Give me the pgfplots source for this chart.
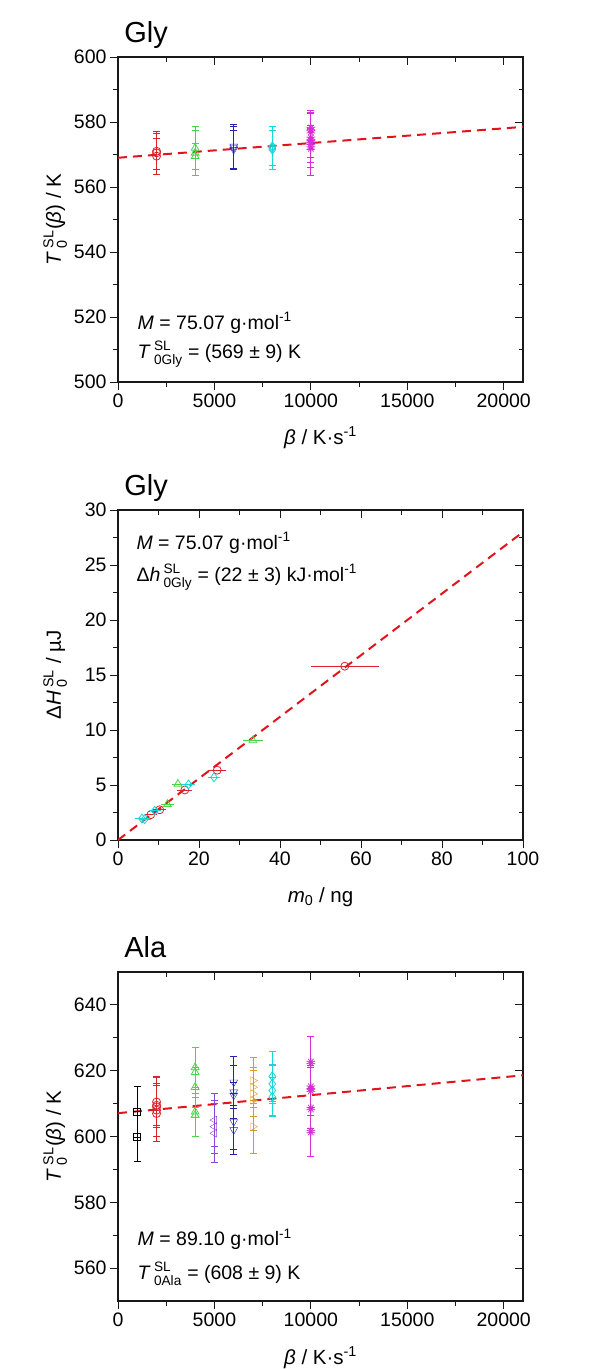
\documentclass[border=0pt]{standalone}
\usepackage{pgfplots}
\pgfplotsset{compat=1.18}
\usepackage{fontspec}
\setmainfont{Liberation Sans}
\usepackage{amsmath}
\usetikzlibrary{plotmarks}

\definecolor{cred}{RGB}{220,35,40}
\definecolor{cgreen}{RGB}{70,215,70}
\definecolor{cblue}{RGB}{35,35,175}
\definecolor{ccyan}{RGB}{25,215,215}
\definecolor{cmag}{RGB}{215,45,215}
\definecolor{cviol}{RGB}{140,70,215}
\definecolor{corange}{RGB}{225,150,40}
\definecolor{cfit}{RGB}{225,20,30}

\newcommand{\fs}{\fontsize{19.5}{23}\selectfont}
\newcommand{\fl}{\fontsize{20.5}{24}\selectfont}
\newcommand{\ft}{\fontsize{29}{33}\selectfont}

\pgfplotsset{
  myax/.style={
    scale only axis, width=405pt, clip mode=individual,
    axis line style={line width=1.3pt, black!90},
    every tick/.style={line width=1pt, black!90},
    major tick length=8pt, minor tick length=4.5pt,
    tick align=outside, xtick pos=left, ytick pos=left,
    ticklabel style={font=\fs},
    /pgf/number format/assume math mode=true,
    /pgf/number format/set thousands separator={},
    scaled ticks=false,
    minor x tick num=1, minor y tick num=1,
    every axis y label/.style={at={(axis description cs:-0.155,0.5)}, rotate=90, anchor=center, font=\fl},
    every axis x label/.style={at={(axis description cs:0.5,-0.172)}, anchor=center, font=\fl},
  },
  mirror/.style={
    scale only axis, width=405pt, scaled ticks=false,
    axis line style={draw=none},
    every tick/.style={line width=1pt, black!90},
    major tick length=8pt, minor tick length=4.5pt,
    tick align=inside, xtick pos=right, ytick pos=right,
    xticklabels={}, yticklabels={},
    minor x tick num=1, minor y tick num=1,
  },
  pts/.style={only marks, mark size=4pt, mark options={line width=0.8pt, fill=none},
    error bars/y dir=both, error bars/y explicit,
    error bars/error bar style={line width=0.8pt},
    error bars/error mark options={line width=0.8pt, mark size=3.5pt, rotate=90}},
  ptsx/.style={only marks, mark size=4pt, mark options={line width=0.8pt, fill=none},
    error bars/x dir=both, error bars/x explicit,
    error bars/error bar style={line width=0.8pt},
    error bars/error mark options={line width=0.8pt, mark size=3.5pt}},
  fit/.style={cfit, line width=2pt, dash pattern=on 9pt off 6pt},
}

\begin{document}
\begin{tikzpicture}
\path[use as bounding box] (0,0) rectangle (600pt,-1369pt);

% ---------------- Panel 1 ----------------
\begin{axis}[myax, at={(118pt,-382pt)}, anchor=south west, height=325pt,
  xmin=0, xmax=21000, ymin=500, ymax=600,
  xtick={0,5000,10000,15000,20000}, ytick={500,520,540,560,580,600},
  ylabel={\textit{T}\,$^{\text{SL}}_{\text{0}}$(\textit{β}) / K},
  xlabel={\textit{β} / K·s\textsuperscript{-1}}]
\addplot[fit] coordinates {(0,569) (21000,578.5)};
\addplot[pts, color=cred, mark=o] table[x=x,y=y,y error=e] {
x y e
2000 570.5 6.5
2000 571 5.5
2000 569.5 5.5
};
\addplot[pts, color=cgreen, mark=triangle, mark size=4.5pt] table[x=x,y=y,y error=e] {
x y e
4000 572 6.5
4000 570.5 7
4000 569.5 4
};
\addplot[pts, color=cblue, mark=triangle, mark size=4.5pt, mark options={rotate=180}] table[x=x,y=y,y error=e] {
x y e
6000 572.5 6.8
6000 571.5 6
6000 572 6.5
};
\addplot[pts, color=ccyan, mark=diamond, mark size=4.5pt] table[x=x,y=y,y error=e] {
x y e
8000 572 6.5
8000 571.5 6
8000 572.5 6
};
\addplot[pts, color=cmag, mark=10-pointed star, mark size=4.5pt] table[x=x,y=y,y error=e] {
x y e
10000 573.5 10
10000 577 5.5
10000 575 7.5
10000 572 6
10000 574 5
10000 578 5
};
\node[anchor=west, font=\fs] at (rel axis cs:0.04,0.182) {\textit{M} = 75.07 g·mol\textsuperscript{-1}};
\node[anchor=west, font=\fs] at (rel axis cs:0.04,0.086) {\textit{T}\,$^{\text{SL}}_{\text{0Gly}}$ = (569 ± 9) K};
\node[anchor=base west, font=\ft, inner sep=0pt] at (rel axis cs:0.015,1) [yshift=15pt] {Gly};
\end{axis}
\begin{axis}[mirror, at={(118pt,-382pt)}, anchor=south west, height=325pt,
  xmin=0, xmax=21000, ymin=500, ymax=600,
  xtick={0,5000,10000,15000,20000}, ytick={500,520,540,560,580,600}]
\addplot[draw=none] coordinates {(0,500)};
\end{axis}

% ---------------- Panel 2 ----------------
\begin{axis}[myax, at={(118pt,-840pt)}, anchor=south west, height=330pt,
  xmin=0, xmax=100, ymin=0, ymax=30,
  xtick={0,20,40,60,80,100}, ytick={0,5,10,15,20,25,30},
  ylabel={Δ\textit{H}\,$^{\text{SL}}_{\text{0}}$ / µJ},
  xlabel={\textit{m}$_{\text{0}}$ / ng}]
\addplot[fit] coordinates {(0,0) (100,28.0)};
\addplot[ptsx, color=cred, mark=o] table[x=x,y=y,x error=e] {
x y e
8.1 2.3 0.6
10.3 2.75 0.7
16.5 4.55 1
24.5 6.35 1.4
56 15.8 7.5
};
\addplot[ptsx, color=cgreen, mark=triangle, mark size=4.5pt] table[x=x,y=y,x error=e] {
x y e
12.2 3.25 0.8
14.8 5.1 0.5
33.3 9.05 1.6
};
\addplot[ptsx, color=ccyan, mark=diamond, mark size=4.5pt] table[x=x,y=y,x error=e] {
x y e
5.9 1.95 0.8
6.6 1.9 0.6
9.05 2.65 0.6
17.4 5.05 0.8
23.7 5.7 0.7
};
\node[anchor=west, font=\fs] at (rel axis cs:0.037,0.9) {\textit{M} = 75.07 g·mol\textsuperscript{-1}};
\node[anchor=west, font=\fs] at (rel axis cs:0.037,0.797) {Δ\textit{h}\,$^{\text{SL}}_{\text{0Gly}}$ = (22 ± 3) kJ·mol\textsuperscript{-1}};
\node[anchor=base west, font=\ft, inner sep=0pt] at (rel axis cs:0.015,1) [yshift=15pt] {Gly};
\end{axis}
\begin{axis}[mirror, at={(118pt,-840pt)}, anchor=south west, height=330pt,
  xmin=0, xmax=100, ymin=0, ymax=30,
  xtick={0,20,40,60,80,100}, ytick={0,5,10,15,20,25,30}]
\addplot[draw=none] coordinates {(0,0)};
\end{axis}

% ---------------- Panel 3 ----------------
\begin{axis}[myax, at={(118pt,-1301pt)}, anchor=south west, height=329pt,
  xmin=0, xmax=21000, ymin=550, ymax=650,
  xtick={0,5000,10000,15000,20000}, ytick={560,580,600,620,640},
  ylabel={\textit{T}\,$^{\text{SL}}_{\text{0}}$(\textit{β}) / K},
  xlabel={\textit{β} / K·s\textsuperscript{-1}}]
\addplot[fit] coordinates {(0,607.1) (21000,618.6)};
\addplot[pts, color=black, mark=square, mark size=3.5pt] table[x=x,y=y,y error=e] {
x y e
1000 607.4 7.8
1000 600 7.6
};
\addplot[pts, color=cred, mark=o] table[x=x,y=y,y error=e] {
x y e
2000 610.5 7.8
2000 609 9
2000 608 8
2000 607 8.5
2000 609.5 6
};
\addplot[pts, color=cgreen, mark=triangle, mark size=4.5pt] table[x=x,y=y,y error=e] {
x y e
4000 621 6
4000 619.5 7.5
4000 615 6
4000 607.5 7.5
4000 606.5 6.5
};
\addplot[pts, color=cviol, mark=triangle, mark size=4.5pt, mark options={rotate=90}] table[x=x,y=y,y error=e] {
x y e
5000 605 8
5000 603 8
5000 601 9
};
\addplot[pts, color=cblue, mark=triangle, mark size=4.5pt, mark options={rotate=180}] table[x=x,y=y,y error=e] {
x y e
6000 616.5 8
6000 613.5 8
6000 612.5 4
6000 604.5 8.5
6000 602 7.5
};
\addplot[pts, color=corange, mark=triangle, mark size=4.5pt, mark options={rotate=-90}] table[x=x,y=y,y error=e] {
x y e
7000 617 7
7000 615 6
7000 613 7
7000 611 9
7000 603 8
};
\addplot[pts, color=ccyan, mark=diamond, mark size=4.5pt] table[x=x,y=y,y error=e] {
x y e
8000 618.3 7.5
8000 616 6
8000 614 7.5
8000 612 6
};
\addplot[pts, color=cmag, mark=10-pointed star, mark size=4.5pt] table[x=x,y=y,y error=e] {
x y e
10000 622.5 8
10000 615 6
10000 614 7.5
10000 608.5 6
10000 601.5 7.5
};
\node[anchor=west, font=\fs] at (rel axis cs:0.04,0.187) {\textit{M} = 89.10 g·mol\textsuperscript{-1}};
\node[anchor=west, font=\fs] at (rel axis cs:0.04,0.083) {\textit{T}\,$^{\text{SL}}_{\text{0Ala}}$ = (608 ± 9) K};
\node[anchor=base west, font=\ft, inner sep=0pt] at (rel axis cs:0.015,1) [yshift=15pt] {Ala};
\end{axis}
\begin{axis}[mirror, at={(118pt,-1301pt)}, anchor=south west, height=329pt,
  xmin=0, xmax=21000, ymin=550, ymax=650,
  xtick={0,5000,10000,15000,20000}, ytick={560,580,600,620,640}]
\addplot[draw=none] coordinates {(0,550)};
\end{axis}
\end{tikzpicture}
\end{document}
